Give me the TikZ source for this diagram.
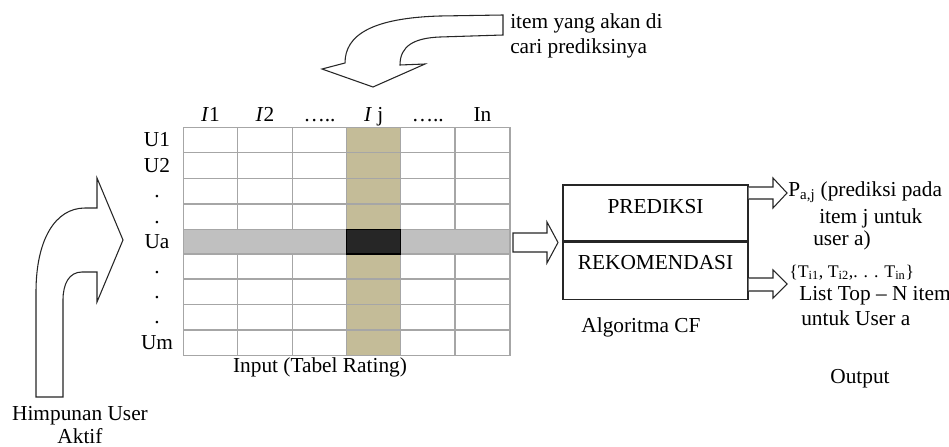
\documentclass[tikz,border=0pt]{standalone}
\usepackage{fontspec}
\setmainfont{Liberation Serif}
\usetikzlibrary{positioning}
\definecolor{gridgray}{RGB}{166,166,166}
\definecolor{itemcol}{RGB}{196,188,152}
\definecolor{userrow}{RGB}{192,192,192}
\definecolor{cellblack}{RGB}{38,38,38}

\begin{document}
\begin{tikzpicture}[x=0.75pt,y=-0.75pt,
% styles
txt/.style={font=\fontsize{16}{19.5}\selectfont, inner sep=0pt},
small/.style={font=\fontsize{13.3}{16}\selectfont, inner sep=0pt},
gridline/.style={draw=gridgray, line width=0.9pt},
blockarrow/.style={draw=black!85, fill=white, line width=0.8pt, line join=miter},
cfbox/.style={rectangle, draw=black!85, line width=0.9pt, minimum width=138.75pt, inner sep=0pt},
]
\useasboundingbox (0,0) rectangle (949,446);

% Tabel rating
\fill[itemcol] (346.7,127.3) rectangle (400.7,355.7);
\foreach \y in {127.3,152.7,178.3,204,229.3,254,279,304.3,330,355.7}
  \draw[gridline] (183.3,\y) -- (510,\y);
\foreach \x in {183.3,237.7,292.3,346.7,400.7,455,510}
  \draw[gridline] (\x,127.3) -- (\x,355.7);
\filldraw[fill=userrow, draw=gridgray, line width=0.9pt] (183.3,229.3) rectangle (510,254);
\filldraw[fill=cellblack, draw=black, line width=0.9pt] (346.7,229.3) rectangle (400.7,254);

% kolom item
\foreach \x/\lbl [count=\i] in {210.5/{\textit{I}1}, 265/{\textit{I}2}, 319.5/{…..},
    373.7/{\textit{I} j}, 427.8/{…..}, 482.5/{In}}
  \node[txt, anchor=base] (item\i) at (\x,121) {\lbl};

% baris user
\foreach \y/\lbl [count=\i] in {140/U1, 165.5/U2, 191/., 216.7/., 241.7/Ua,
    266.5/., 291.7/., 317/., 342.8/Um}
  \node[txt, anchor=base] (user\i) at (157,\y+6.5) {\lbl};

\node[txt, anchor=base] (input) at (320,372) {Input (Tabel Rating)};

% Algoritma CF
\node[cfbox, minimum height=42pt] (pred) at (655.5,213) {};
\node[cfbox, minimum height=42.75pt, below=0pt of pred] (rekom) {};
\node[txt, anchor=base] (predtxt) at (655.5,213) {PREDIKSI};
\node[txt, anchor=base] (rekomtxt) at (655.5,269.5) {REKOMENDASI};
\node[txt, anchor=base] (algo) at (641,332) {Algoritma CF};

% panah input -> algoritma
\draw[blockarrow] (513,233) -- (547,233) -- (547,222) -- (558,242.5) -- (547,263)
  -- (547,252) -- (513,252) -- cycle;
% panah output
\draw[blockarrow] (pred.east |- 0,187) -- (773,187) -- (773,178) -- (787,193) -- (773,208)
  -- (773,199) -- (pred.east |- 0,199);
\draw[blockarrow] (rekom.east |- 0,278) -- (773,278) -- (773,270) -- (787,284) -- (773,298)
  -- (773,291) -- (rekom.east |- 0,291);

% output
\node[txt, anchor=base west] (out1) at (788,196.5) {P\textsubscript{a,j} (prediksi pada};
\node[txt, anchor=base west] (out2) at (819,223) {item j untuk};
\node[txt, anchor=base west] (out3) at (813,245) {user a)};
\node[small, anchor=base west] (out4) at (789,277) {\{T\textsubscript{i1}, T\textsubscript{i2},. . . T\textsubscript{in}\}};
\node[txt, anchor=base west] (out5) at (799,300) {List Top -- N item};
\node[txt, anchor=base west] (out6) at (801,325) {untuk User a};
\node[txt, anchor=base] (output) at (860,383) {Output};

% panah item yang dicari
\draw[blockarrow] (503,15) -- (440,16) .. controls (372,18) and (345,35) .. (345,63)
  -- (322,69) -- (373,87) -- (425,64) -- (400,65) .. controls (400,46) and (414,38) .. (440,37)
  -- (503,35) -- cycle;
\node[txt, anchor=base west] (itemtxt1) at (510,28) {item yang akan di};
\node[txt, anchor=base west] (itemtxt2) at (510,53) {cari prediksinya};

% panah user aktif
\draw[blockarrow] (36,397) -- (36,292) .. controls (36,240) and (55,208) .. (85,208)
  -- (97,208) -- (97,178) -- (123,240) -- (97,302) -- (97,272) -- (82,272)
  .. controls (69,272) and (63,284) .. (63,300) -- (63,397) -- cycle;
\node[txt, anchor=base] (aktif1) at (80,420) {Himpunan User};
\node[txt, anchor=base] (aktif2) at (80,443) {Aktif};

\end{tikzpicture}
\end{document}
